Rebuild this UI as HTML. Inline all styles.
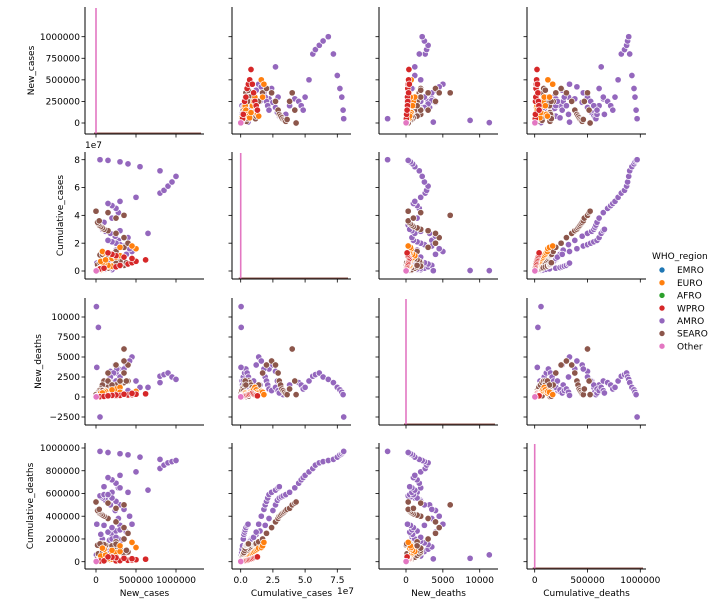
<!DOCTYPE html>
<html><head><meta charset="utf-8"><style>
body{margin:0;background:#fff}
svg{display:block;font-family:"DejaVu Sans","Liberation Sans",sans-serif}
</style></head><body>
<svg id="c" width="720" height="610" viewBox="0 0 720 610"></svg>
<script>
const variables = ['New_cases','Cumulative_cases','New_deaths','Cumulative_deaths'];
const regions = ['EMRO','EURO','AFRO','WPRO','AMRO','SEARO','Other'];
const regionColors = ['#1f77b4','#ff7f0e','#2ca02c','#d62728','#9467bd','#8c564b','#e377c2'];
const usaRegion = 'AMRO';
const usaNewCases = [0,30e3,200e3,180e3,150e3,130e3,200e3,300e3,280e3,220e3,200e3,250e3,300e3,280e3,240e3,180e3,120e3,80e3,60e3,50e3,100e3,200e3,280e3,250e3,200e3,150e3,300e3,500e3,800e3,850e3,900e3,950e3,1000e3,800e3,550e3,400e3,300e3,150e3,50e3];
const usaCumCases = [0,0.03e7,0.1e7,0.2e7,0.3e7,0.4e7,0.5e7,0.65e7,0.8e7,1e7,1.2e7,1.5e7,1.9e7,2.2e7,2.5e7,2.7e7,2.85e7,3e7,3.15e7,3.3e7,3.5e7,3.8e7,4.2e7,4.5e7,4.7e7,4.85e7,5e7,5.3e7,5.6e7,5.8e7,6.1e7,6.4e7,6.8e7,7.2e7,7.5e7,7.7e7,7.85e7,7.95e7,8e7];
const usaNewDeaths = [0,100,2000,2500,1800,1000,700,900,1000,800,700,1500,2500,3500,4000,3200,2000,1200,600,300,500,1500,2000,1800,1500,1000,1200,2000,2600,2800,3000,2500,2200,1800,1200,900,600,300,-2500];
const usaCumDeaths = [0,5e3,50e3,90e3,120e3,140e3,160e3,180e3,200e3,220e3,240e3,270e3,320e3,380e3,450e3,500e3,540e3,560e3,570e3,580e3,590e3,610e3,650e3,690e3,720e3,740e3,760e3,790e3,820e3,850e3,870e3,880e3,890e3,900e3,920e3,940e3,950e3,960e3,970e3];
const brazilRegion = 'AMRO';
const brazilNewCases = [0,40e3,100e3,180e3,250e3,260e3,220e3,180e3,160e3,170e3,200e3,250e3,380e3,450e3,420e3,350e3,300e3,250e3,200e3,150e3,400e3,650e3,300e3,100e3];
const brazilCumCases = [0,0.05e7,0.1e7,0.2e7,0.3e7,0.4e7,0.5e7,0.6e7,0.7e7,0.8e7,0.9e7,1e7,1.2e7,1.4e7,1.6e7,1.8e7,1.9e7,2e7,2.1e7,2.2e7,2.4e7,2.7e7,2.9e7,3e7];
const brazilNewDeaths = [0,500,1500,2000,3000,3500,3000,2500,2000,1500,1500,2000,4000,5000,4500,3500,2500,2000,1500,1000,800,1200,800,500];
const brazilCumDeaths = [0,20e3,50e3,80e3,110e3,130e3,150e3,165e3,180e3,190e3,200e3,215e3,260e3,330e3,400e3,460e3,500e3,530e3,560e3,590e3,610e3,630e3,650e3,660e3];
const mexicoRegion = 'AMRO';
const mexicoNewCases = [0,10e3,5e3,30e3,40e3,60e3,100e3,120e3,80e3,60e3,150e3,300e3,200e3,100e3,10e3];
const mexicoCumCases = [0,0.02e7,0.03e7,0.035e7,0.05e7,0.08e7,0.12e7,0.15e7,0.2e7,0.25e7,0.3e7,0.35e7,0.4e7,0.5e7,0.57e7];
const mexicoNewDeaths = [0,3700,11300,8700,800,600,1000,1500,1200,900,500,800,1000,600,200];
const mexicoCumDeaths = [0,25e3,60e3,30e3,60e3,80e3,110e3,140e3,200e3,240e3,260e3,280e3,300e3,320e3,330e3];
const indiaRegion = 'SEARO';
const indiaNewCases = [0,10e3,30e3,60e3,150e3,250e3,350e3,400e3,380e3,300e3,250e3,200e3,120e3,80e3,60e3,50e3,80e3,250e3,350e3,400e3,350e3,250e3,150e3,100e3,80e3,60e3,40e3,30e3,20e3,40e3,250e3,350e3,150e3,0];
const indiaCumCases = [0,0.02e7,0.05e7,0.1e7,0.2e7,0.3e7,0.4e7,0.5e7,0.6e7,0.7e7,0.8e7,0.9e7,1e7,1.05e7,1.1e7,1.15e7,1.2e7,1.4e7,1.7e7,2e7,2.4e7,2.7e7,2.9e7,3e7,3.1e7,3.2e7,3.3e7,3.4e7,3.5e7,3.6e7,3.8e7,4e7,4.2e7,4.3e7];
const indiaNewDeaths = [0,200,500,800,1200,1500,1800,2000,2000,1800,1500,1200,800,600,400,300,500,1500,3000,4000,4500,4000,3000,2000,1500,1000,800,600,400,300,1000,6000,2000,300];
const indiaCumDeaths = [0,5e3,15e3,25e3,40e3,55e3,70e3,85e3,100e3,115e3,125e3,135e3,145e3,150e3,153e3,155e3,160e3,175e3,200e3,250e3,300e3,350e3,380e3,400e3,410e3,420e3,430e3,440e3,450e3,460e3,470e3,500e3,515e3,525e3];
const indonesiaRegion = 'SEARO';
const indonesiaNewCases = [0,5e3,10e3,20e3,40e3,60e3,40e3,30e3,80e3,250e3,300e3,200e3,80e3,30e3,20e3,100e3,250e3,50e3];
const indonesiaCumCases = [0,0.02e7,0.05e7,0.08e7,0.1e7,0.13e7,0.16e7,0.2e7,0.25e7,0.3e7,0.35e7,0.4e7,0.42e7,0.43e7,0.45e7,0.5e7,0.55e7,0.6e7];
const indonesiaNewDeaths = [0,50,100,150,250,300,200,150,800,1500,2000,1500,500,100,50,200,300,100];
const indonesiaCumDeaths = [0,10e3,20e3,30e3,40e3,50e3,60e3,70e3,80e3,100e3,120e3,140e3,143e3,144e3,145e3,150e3,155e3,157e3];
const russiaRegion = 'EURO';
const russiaNewCases = [0,50e3,60e3,40e3,50e3,120e3,180e3,200e3,150e3,100e3,80e3,60e3,120e3,200e3,250e3,300e3,200e3,100e3,80e3,500e3,300e3,450e3];
const russiaCumCases = [0,0.05e7,0.1e7,0.15e7,0.2e7,0.25e7,0.3e7,0.35e7,0.4e7,0.5e7,0.6e7,0.7e7,0.8e7,0.9e7,1e7,1.1e7,1.2e7,1.3e7,1.4e7,1.6e7,1.7e7,1.8e7];
const russiaNewDeaths = [0,100,150,100,150,300,500,550,500,400,350,500,700,800,1000,1200,900,600,500,700,600,300];
const russiaCumDeaths = [0,3e3,6e3,9e3,12e3,15e3,18e3,22e3,26e3,32e3,40e3,50e3,60e3,70e3,80e3,90e3,100e3,110e3,120e3,125e3,140e3,170e3];
const wproRegion = 'WPRO';
const wproNewCases = [0,5e3,10e3,5e3,20e3,30e3,20e3,40e3,50e3,100e3,250e3,300e3,400e3,450e3,500e3,620e3,450e3,350e3,250e3,200e3,150e3];
const wproCumCases = [0,0.01e7,0.02e7,0.03e7,0.05e7,0.08e7,0.1e7,0.12e7,0.15e7,0.2e7,0.3e7,0.4e7,0.5e7,0.6e7,0.7e7,0.8e7,0.9e7,1e7,1.1e7,1.2e7,1.3e7];
const wproNewDeaths = [0,5,10,5,20,30,30,40,50,80,150,200,250,300,350,400,450,350,250,200,150];
const wproCumDeaths = [0,1e3,2e3,2e3,3e3,4e3,5e3,5e3,6e3,7e3,8e3,10e3,12e3,15e3,18e3,22e3,26e3,30e3,35e3,40e3,42e3];
const otherRegion = 'Other';
const otherNewCases = [0,1e3,2e3];
const otherCumCases = [0,0.005e7,0.01e7];
const otherNewDeaths = [0,5,10];
const otherCumDeaths = [0,1e3,2e3];

const rowTicks = [[0,250000,500000,750000,1000000],[0,2e7,4e7,6e7,8e7],[-2500,0,2500,5000,7500,10000],[0,200000,400000,600000,800000,1000000]];
const rowTickLabels = [['0','250000','500000','750000','1000000'],['0','2','4','6','8'],['\u22122500','0','2500','5000','7500','10000'],['0','200000','400000','600000','800000','1000000']];
const colTicks = [[0,500000,1000000],[0,2.5e7,5e7,7.5e7],[0,5000,10000],[0,500000,1000000]];
const colTickLabels = [['0','500000','1000000'],['0.0','2.5','5.0','7.5'],['0','5000','10000'],['0','500000','1000000']];

const series = [
 [usaRegion,usaNewCases,usaCumCases,usaNewDeaths,usaCumDeaths],
 [brazilRegion,brazilNewCases,brazilCumCases,brazilNewDeaths,brazilCumDeaths],
 [mexicoRegion,mexicoNewCases,mexicoCumCases,mexicoNewDeaths,mexicoCumDeaths],
 [indiaRegion,indiaNewCases,indiaCumCases,indiaNewDeaths,indiaCumDeaths],
 [indonesiaRegion,indonesiaNewCases,indonesiaCumCases,indonesiaNewDeaths,indonesiaCumDeaths],
 [russiaRegion,russiaNewCases,russiaCumCases,russiaNewDeaths,russiaCumDeaths],
 [wproRegion,wproNewCases,wproCumCases,wproNewDeaths,wproCumDeaths],
 [otherRegion,otherNewCases,otherCumCases,otherNewDeaths,otherCumDeaths]
];

const NS='http://www.w3.org/2000/svg';
const svg=document.getElementById('c');
const colBox=[[85,204],[232,351],[379,498],[527,646]];
const rowBox=[[7,134],[152,279],[298,425],[443,569]];
const xScale=[v=>96+v*80/1e6, v=>240.7+v*96.6/7.5e7, v=>406+v*73.7/1e4, v=>534.7+v*105.6/1e6];
const yScale=[v=>123-v*86.3/1e6, v=>271-v*111.3/8e7, v=>397-v*80/1e4, v=>561.7-v*113.7/1e6];
const yLabelX=[34,63,41,33];
const FS=9;

function mk(tag,attrs,parent){const e=document.createElementNS(NS,tag);for(const k in attrs)e.setAttribute(k,attrs[k]);(parent||svg).appendChild(e);return e;}
function txt(s,attrs,parent){const e=mk('text',attrs,parent);e.textContent=s;return e;}

for(let r=0;r<4;r++){
 for(let c=0;c<4;c++){
  const g=mk('g',{});
  
  
  const [x0,x1]=colBox[c],[y0,y1]=rowBox[r];
  if(r===c){
   const base=mk('line',{x1:xScale[c](0)-2,x2:x1-3,y1:y1-1,y2:y1-1,stroke:'#8c564b','stroke-width':1},g);
   
   
   const sp=mk('line',{x1:xScale[c](0),x2:xScale[c](0),y1:y0+1,y2:y1,stroke:'#e377c2','stroke-width':1.6},g);
   
   
  } else {
   for(const s of series){
    const col=regionColors[regions.indexOf(s[0])];
    const xs=s[1+c], ys=s[1+r];
    for(let i=0;i<xs.length;i++){
     const p=mk('circle',{cx:xScale[c](xs[i]).toFixed(1),cy:yScale[r](ys[i]).toFixed(1),r:3.2,fill:col,stroke:'#fff','stroke-width':0.7},g);
     
     
    }
   }
  }
  mk('line',{x1:x0,x2:x0,y1:y0,y2:y1,stroke:'#000','stroke-width':1},g);
  mk('line',{x1:x0,x2:x1,y1:y1,y2:y1,stroke:'#000','stroke-width':1},g);
  rowTicks[r].forEach((t,i)=>{const y=yScale[r](t);mk('line',{x1:x0-3.5,x2:x0,y1:y,y2:y,stroke:'#000','stroke-width':0.8},g);
   if(c===0){const tl=txt(rowTickLabels[r][i],{x:x0-5,y:y+3.2,'font-size':FS,'text-anchor':'end',fill:'#000'},g);
    
    }});
  colTicks[c].forEach((t,i)=>{const x=xScale[c](t);mk('line',{x1:x,x2:x,y1:y1,y2:y1+3.5,stroke:'#000','stroke-width':0.8},g);
   if(r===3){const tl=txt(colTickLabels[c][i],{x:x,y:y1+14,'font-size':FS,'text-anchor':'middle',fill:'#000'},g);
    
    }});
 }
 const yl=txt(variables[r],{x:0,y:0,'font-size':FS,'text-anchor':'middle',transform:`translate(${yLabelX[r]},${(rowBox[r][0]+rowBox[r][1])/2}) rotate(-90)`});
 
 
 const xl=txt(variables[r],{x:(colBox[r][0]+colBox[r][1])/2,y:596,'font-size':FS,'text-anchor':'middle'});
 
 
}
const o1=txt('1e7',{x:85,y:148,'font-size':FS});


const o2=txt('1e7',{x:337,y:594,'font-size':FS});


const lg=mk('g',{});


const lt=txt('WHO_region',{x:652,y:259,'font-size':FS},lg);


regions.forEach((rg,i)=>{
 const y=270+i*12.7;
 const e=mk('g',{},lg);
 
 
 mk('circle',{cx:662,cy:y,r:3,fill:regionColors[i],stroke:'#fff','stroke-width':0.6},e);
 txt(rg,{x:677,y:y+3.2,'font-size':FS},e);
});
</script>
</body></html>
